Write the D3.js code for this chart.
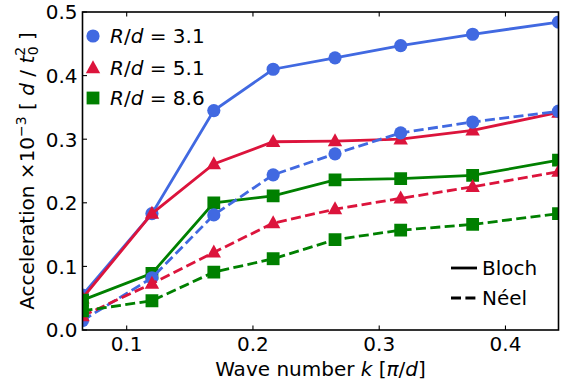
<!DOCTYPE html>
<html>
<head>
<meta charset="utf-8">
<script src="https://cdn.jsdelivr.net/npm/d3@7"></script>
<style>
  body { margin: 0; background: #fff; }
  text { font-family: 'DejaVu Sans', sans-serif; fill: #000; }
</style>
</head>
<body>
<svg id="chart" width="578" height="388"></svg>
<script>
// wave numbers k [pi/d]
const waveNumbers = [0.065, 0.120, 0.169, 0.216, 0.265, 0.317, 0.374, 0.442];

// acceleration x1e-3 [d / t0^2]
const bloch31 = [0.055, 0.183, 0.345, 0.410, 0.428, 0.447, 0.465, 0.484];
const bloch51 = [0.050, 0.183, 0.261, 0.296, 0.297, 0.300, 0.314, 0.342];
const bloch86 = [0.047, 0.089, 0.200, 0.211, 0.236, 0.238, 0.243, 0.267];
const neel31 = [0.015, 0.082, 0.181, 0.244, 0.277, 0.310, 0.327, 0.344];
const neel51 = [0.022, 0.073, 0.122, 0.168, 0.190, 0.207, 0.225, 0.249];
const neel86 = [0.030, 0.046, 0.091, 0.112, 0.142, 0.157, 0.166, 0.183];

const ratios = ['3.1', '5.1', '8.6'];
const xTicks = [0.1, 0.2, 0.3, 0.4];
const yTicks = [0, 0.1, 0.2, 0.3, 0.4, 0.5];

const series = [
  { values: bloch31, color: '#4169E1', marker: 'circle', dashed: false },
  { values: bloch51, color: '#DC143C', marker: 'triangle', dashed: false },
  { values: bloch86, color: '#008000', marker: 'square', dashed: false },
  { values: neel31, color: '#4169E1', marker: 'circle', dashed: true },
  { values: neel51, color: '#DC143C', marker: 'triangle', dashed: true },
  { values: neel86, color: '#008000', marker: 'square', dashed: true },
];

const svg = d3.select('#chart');
const plotLeft = 82.5, plotRight = 558.5, plotTop = 12, plotBottom = 330;
const fontSize = 20;

const x = d3.scaleLinear().domain([0.065, 0.442]).range([plotLeft, plotRight]);
const y = d3.scaleLinear().domain([0, 0.5]).range([plotBottom, plotTop]);

const markerPath = (type) => {
  if (type === 'circle') return d3.symbol(d3.symbolCircle, Math.PI * 6.6 * 6.6)();
  if (type === 'square') return 'M-6.4,-6.4H6.4V6.4H-6.4Z';
  return 'M0,-7.8L7.2,5.2L-7.2,5.2Z';
};

svg.append('defs').append('clipPath').attr('id', 'plot-clip')
  .append('rect')
  .attr('x', plotLeft).attr('y', plotTop)
  .attr('width', plotRight - plotLeft).attr('height', plotBottom - plotTop);

const plot = svg.append('g').attr('clip-path', 'url(#plot-clip)');

const line = d3.line()
  .x((d, i) => x(waveNumbers[i]))
  .y((d) => y(d));

series.forEach((s) => {
  const g = plot.append('g');
  g.append('path')
    .attr('d', line(s.values))
    .attr('fill', 'none')
    .attr('stroke', s.color)
    .attr('stroke-width', 2.8)
    .attr('stroke-dasharray', s.dashed ? '10,4.4' : null);
  g.selectAll('path.mk')
    .data(s.values)
    .join('path')
    .attr('class', 'mk')
    .attr('d', markerPath(s.marker))
    .attr('transform', (d, i) => `translate(${x(waveNumbers[i])},${y(d)})`)
    .attr('fill', s.color);
});

// frame
svg.append('rect')
  .attr('x', plotLeft).attr('y', plotTop)
  .attr('width', plotRight - plotLeft).attr('height', plotBottom - plotTop)
  .attr('fill', 'none').attr('stroke', '#000').attr('stroke-width', 1.6);

// ticks pointing inward
const ticks = svg.append('g').attr('stroke', '#000').attr('stroke-width', 1.1);
xTicks.forEach((t) => {
  ticks.append('line').attr('x1', x(t)).attr('x2', x(t)).attr('y1', plotBottom).attr('y2', plotBottom - 4.5);
  ticks.append('line').attr('x1', x(t)).attr('x2', x(t)).attr('y1', plotTop).attr('y2', plotTop + 4.5);
});
yTicks.forEach((t) => {
  ticks.append('line').attr('x1', plotLeft).attr('x2', plotLeft + 4.5).attr('y1', y(t)).attr('y2', y(t));
});

svg.append('g').selectAll('text')
  .data(xTicks)
  .join('text')
  .attr('x', (d) => x(d))
  .attr('y', plotBottom + 21)
  .attr('text-anchor', 'middle')
  .attr('font-size', fontSize)
  .text(d3.format('.1f'));

svg.append('g').selectAll('text')
  .data(yTicks)
  .join('text')
  .attr('x', plotLeft - 5)
  .attr('y', (d) => y(d) + 7.3)
  .attr('text-anchor', 'end')
  .attr('font-size', fontSize)
  .text(d3.format('.1f'));

// axis labels
const xl = svg.append('text')
  .attr('x', (plotLeft + plotRight) / 2)
  .attr('y', 376)
  .attr('text-anchor', 'middle')
  .attr('font-size', fontSize);
xl.append('tspan').text('Wave number ');
xl.append('tspan').attr('font-style', 'italic').text('k');
xl.append('tspan').text(' [');
xl.append('tspan').attr('font-style', 'italic').text('π');
xl.append('tspan').text('/');
xl.append('tspan').attr('font-style', 'italic').text('d');
xl.append('tspan').text(']');

const yl = svg.append('text')
  .attr('transform', `translate(34,${(plotTop + plotBottom) / 2}) rotate(-90)`)
  .attr('text-anchor', 'middle')
  .attr('font-size', fontSize);
yl.append('tspan').text('Acceleration ×10');
yl.append('tspan').attr('dy', -8).attr('font-size', 14).text('−3');
yl.append('tspan').attr('dy', 8).text(' [ ');
yl.append('tspan').attr('font-style', 'italic').text('d');
yl.append('tspan').text(' / ');
yl.append('tspan').attr('font-style', 'italic').text('t');
yl.append('tspan').attr('dy', -9).attr('font-size', 14).text('2');
yl.append('tspan').attr('dx', -8.5).attr('dy', 13).attr('font-size', 14).text('0');
yl.append('tspan').attr('dy', -4).text(' ]');

// legend: marker types
const legendColors = ['#4169E1', '#DC143C', '#008000'];
const legendMarkers = ['circle', 'triangle', 'square'];
const legendRows = [36, 68, 98];
ratios.forEach((r, i) => {
  svg.append('path')
    .attr('d', markerPath(legendMarkers[i]))
    .attr('transform', `translate(93,${legendRows[i]})`)
    .attr('fill', legendColors[i]);
  const t = svg.append('text')
    .attr('x', 110)
    .attr('y', legendRows[i] + 7.3)
    .attr('font-size', fontSize);
  t.append('tspan').attr('font-style', 'italic').text('R');
  t.append('tspan').text('/');
  t.append('tspan').attr('font-style', 'italic').text('d');
  t.append('tspan').text(' = ' + r);
});

// legend: line styles
const styleLabels = ['Bloch', 'Néel'];
const styleRows = [268, 298];
styleLabels.forEach((lab, i) => {
  svg.append('line')
    .attr('x1', 451).attr('x2', 477)
    .attr('y1', styleRows[i]).attr('y2', styleRows[i])
    .attr('stroke', '#000').attr('stroke-width', 2.8)
    .attr('stroke-dasharray', i === 1 ? '10,4.4' : null);
  svg.append('text')
    .attr('x', 482)
    .attr('y', styleRows[i] + 7.3)
    .attr('font-size', fontSize)
    .text(lab);
});
</script>
</body>
</html>
